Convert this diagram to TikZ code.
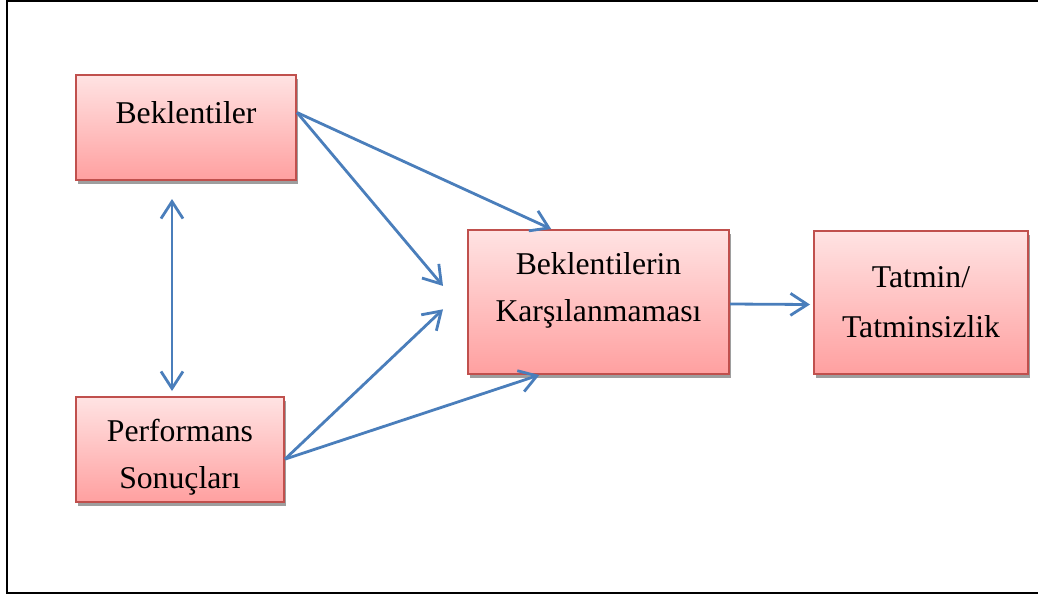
\documentclass[tikz,border=0pt]{standalone}
\usepackage{fontspec}
\setmainfont{Liberation Serif}
\usetikzlibrary{arrows.meta,calc,shadows}
\definecolor{boxline}{HTML}{C0504D}
\definecolor{boxtop}{HTML}{FFE3E3}
\definecolor{boxbot}{HTML}{FFA0A0}
\definecolor{linkblue}{HTML}{4A7EBB}
\begin{document}
\begin{tikzpicture}[x=1pt,y=1pt,
  box/.style={draw=boxline, line width=2pt, top color=boxtop, bottom color=boxbot,
    inner sep=0pt, drop shadow={shadow xshift=2pt, shadow yshift=-4pt, fill=black!38, opacity=1}},
  lbl/.style={font=\fontsize{31.7}{47}\selectfont, align=center, anchor=base, inner sep=0pt},
  link/.style={draw=linkblue, line width=2.8pt, -{Straight Barb[length=17pt,width=22pt]}},
  link2/.style={draw=linkblue, line width=2.8pt, {Straight Barb[length=17pt,width=22pt]}-{Straight Barb[length=17pt,width=22pt]}}]
\useasboundingbox (0,0) rectangle (1038,-595);
% frame (open on the right)
\draw[line width=2pt] (1040,-1) -- (6.5,-1) -- (6.5,-593) -- (1040,-593);

% boxes
\node[box, minimum width=220pt, minimum height=105pt] (A) at (186,-127.5) {};
\node[box, minimum width=208pt, minimum height=105pt] (B) at (180,-449.5) {};
\node[box, minimum width=261pt, minimum height=144pt] (C) at (598.5,-302) {};
\node[box, minimum width=214pt, minimum height=143pt] (D) at (921,-302.5) {};

% labels (anchored at the baseline of the last line)
\node[lbl] (At) at (186,-123) {Beklentiler};
\node[lbl] (Bt) at (180,-488) {Performans\\Sonuçları};
\node[lbl] (Ct) at (598.5,-321) {Beklentilerin\\Karşılanmaması};
\node[lbl, font=\fontsize{31.7}{50}\selectfont] (Dt) at (921,-337) {Tatmin/\\Tatminsizlik};

% connectors
\draw[link] ($(A.north east)!0.36!(A.south east)$) -- ($(C.north west)!0.32!(C.north east)$);
\draw[link] ($(A.north east)!0.36!(A.south east)$) -- ($(C.north west)!0.39!(C.south west)+(-24,0)$);
\draw[link] ($(B.north east)!0.59!(B.south east)$) -- ($(C.north west)!0.55!(C.south west)+(-24,0)$);
\draw[link] ($(B.north east)!0.59!(B.south east)$) -- ($(C.south west)!0.275!(C.south east)$);
\draw[link2] ([xshift=-14pt,yshift=-18pt]A.south) -- ([xshift=-8pt,yshift=5pt]B.north);
\draw[link] ([yshift=-2pt]C.east) -- ([xshift=-3pt,yshift=-2pt]D.west);
\end{tikzpicture}
\end{document}
